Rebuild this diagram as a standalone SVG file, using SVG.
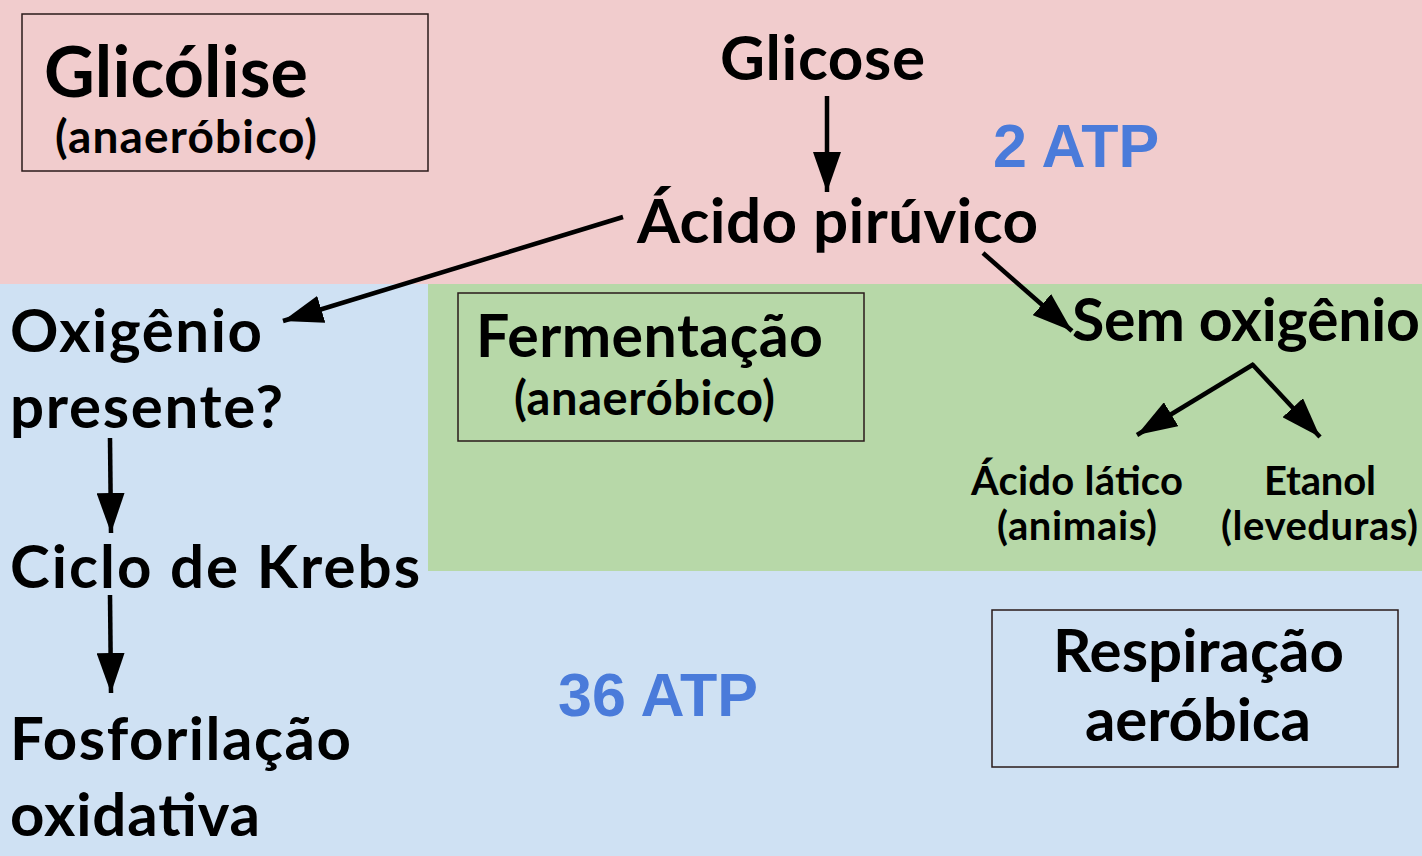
<svg xmlns="http://www.w3.org/2000/svg" width="1422" height="856" viewBox="0 0 1422 856">
<defs>
<style>
.t{font-family:Lato,"Noto Sans",sans-serif;font-weight:700;fill:#000}
.atp{font-family:"Liberation Sans",Arial,sans-serif;font-weight:700;fill:#4a7bda}
.box{fill:none;stroke:#2a1a1a;stroke-width:1.5}
.c{stroke:#000;stroke-width:4.5;fill:none;marker-end:url(#ah)}
</style>
<marker id="ah" markerUnits="userSpaceOnUse" viewBox="0 0 40 28" markerWidth="40" markerHeight="28" refX="40" refY="14" orient="auto">
<path d="M0,0 L40,14 L0,28 Z" fill="#000"/>
</marker>
</defs>
<g id="background">
<rect x="0" y="0" width="1422" height="284" fill="#f1cccd"/>
<rect x="0" y="284" width="1422" height="572" fill="#cfe1f3"/>
<rect x="428" y="284" width="994" height="287" fill="#b7d8a8"/>
</g>
<g id="glicolise">
<rect class="box" x="22" y="14" width="406" height="157"/>
<text class="t" x="44" y="97" font-size="70" textLength="264" lengthAdjust="spacing">Glicólise</text>
<text class="t" x="55" y="153" font-size="46" textLength="262" lengthAdjust="spacing">(anaeróbico)</text>
</g>
<g id="glicose"><text class="t" x="720" y="80" font-size="62" textLength="205" lengthAdjust="spacing">Glicose</text></g>
<g id="atp2"><text class="atp" x="993" y="167" font-size="61">2 ATP</text></g>
<g id="acido-piruvico"><text class="t" x="637" y="243" font-size="62" textLength="401" lengthAdjust="spacing">Ácido pirúvico</text></g>
<g id="sem-oxigenio"><text class="t" x="1072" y="341" font-size="59" textLength="348" lengthAdjust="spacing">Sem oxigênio</text></g>
<g id="fermentacao">
<rect class="box" x="458" y="293" width="406" height="148"/>
<text class="t" x="476" y="357" font-size="59" textLength="347" lengthAdjust="spacing">Fermentação</text>
<text class="t" x="514" y="415" font-size="47" textLength="261" lengthAdjust="spacing">(anaeróbico)</text>
</g>
<g id="acido-latico">
<text class="t" x="971" y="495" font-size="40" textLength="212" lengthAdjust="spacing">Ácido lático</text>
<text class="t" x="997" y="540" font-size="40" textLength="160" lengthAdjust="spacing">(animais)</text>
</g>
<g id="etanol">
<text class="t" x="1264" y="495" font-size="40" textLength="112" lengthAdjust="spacing">Etanol</text>
<text class="t" x="1221" y="540" font-size="40" textLength="197" lengthAdjust="spacing">(leveduras)</text>
</g>
<g id="oxigenio-presente">
<text class="t" x="10" y="352" font-size="60" textLength="252" lengthAdjust="spacing">Oxigênio</text>
<text class="t" x="10" y="428" font-size="60" textLength="273" lengthAdjust="spacing">presente?</text>
</g>
<g id="ciclo-krebs"><text class="t" x="10" y="588" font-size="60" textLength="410" lengthAdjust="spacing">Ciclo de Krebs</text></g>
<g id="fosforilacao">
<text class="t" x="10" y="760" font-size="60" textLength="341" lengthAdjust="spacing">Fosforilação</text>
<text class="t" x="10" y="836" font-size="60" textLength="250" lengthAdjust="spacing">oxidativa</text>
</g>
<g id="atp36"><text class="atp" x="558" y="716" font-size="61">36 ATP</text></g>
<g id="respiracao">
<rect class="box" x="992" y="610" width="406" height="157"/>
<text class="t" x="1053" y="672" font-size="60" textLength="291" lengthAdjust="spacing">Respiração</text>
<text class="t" x="1085" y="741" font-size="60" textLength="226" lengthAdjust="spacing">aeróbica</text>
</g>
<g id="connectors">
<line class="c" x1="827" y1="96" x2="827" y2="192"/>
<line class="c" x1="623" y1="217" x2="283" y2="321"/>
<line class="c" x1="983" y1="253" x2="1072" y2="331"/>
<line class="c" x1="1254" y1="364" x2="1137" y2="435"/>
<line class="c" x1="1252" y1="364" x2="1320" y2="437"/>
<line class="c" x1="110" y1="438" x2="111" y2="533"/>
<line class="c" x1="110" y1="595" x2="111" y2="693"/>
</g>
</svg>
